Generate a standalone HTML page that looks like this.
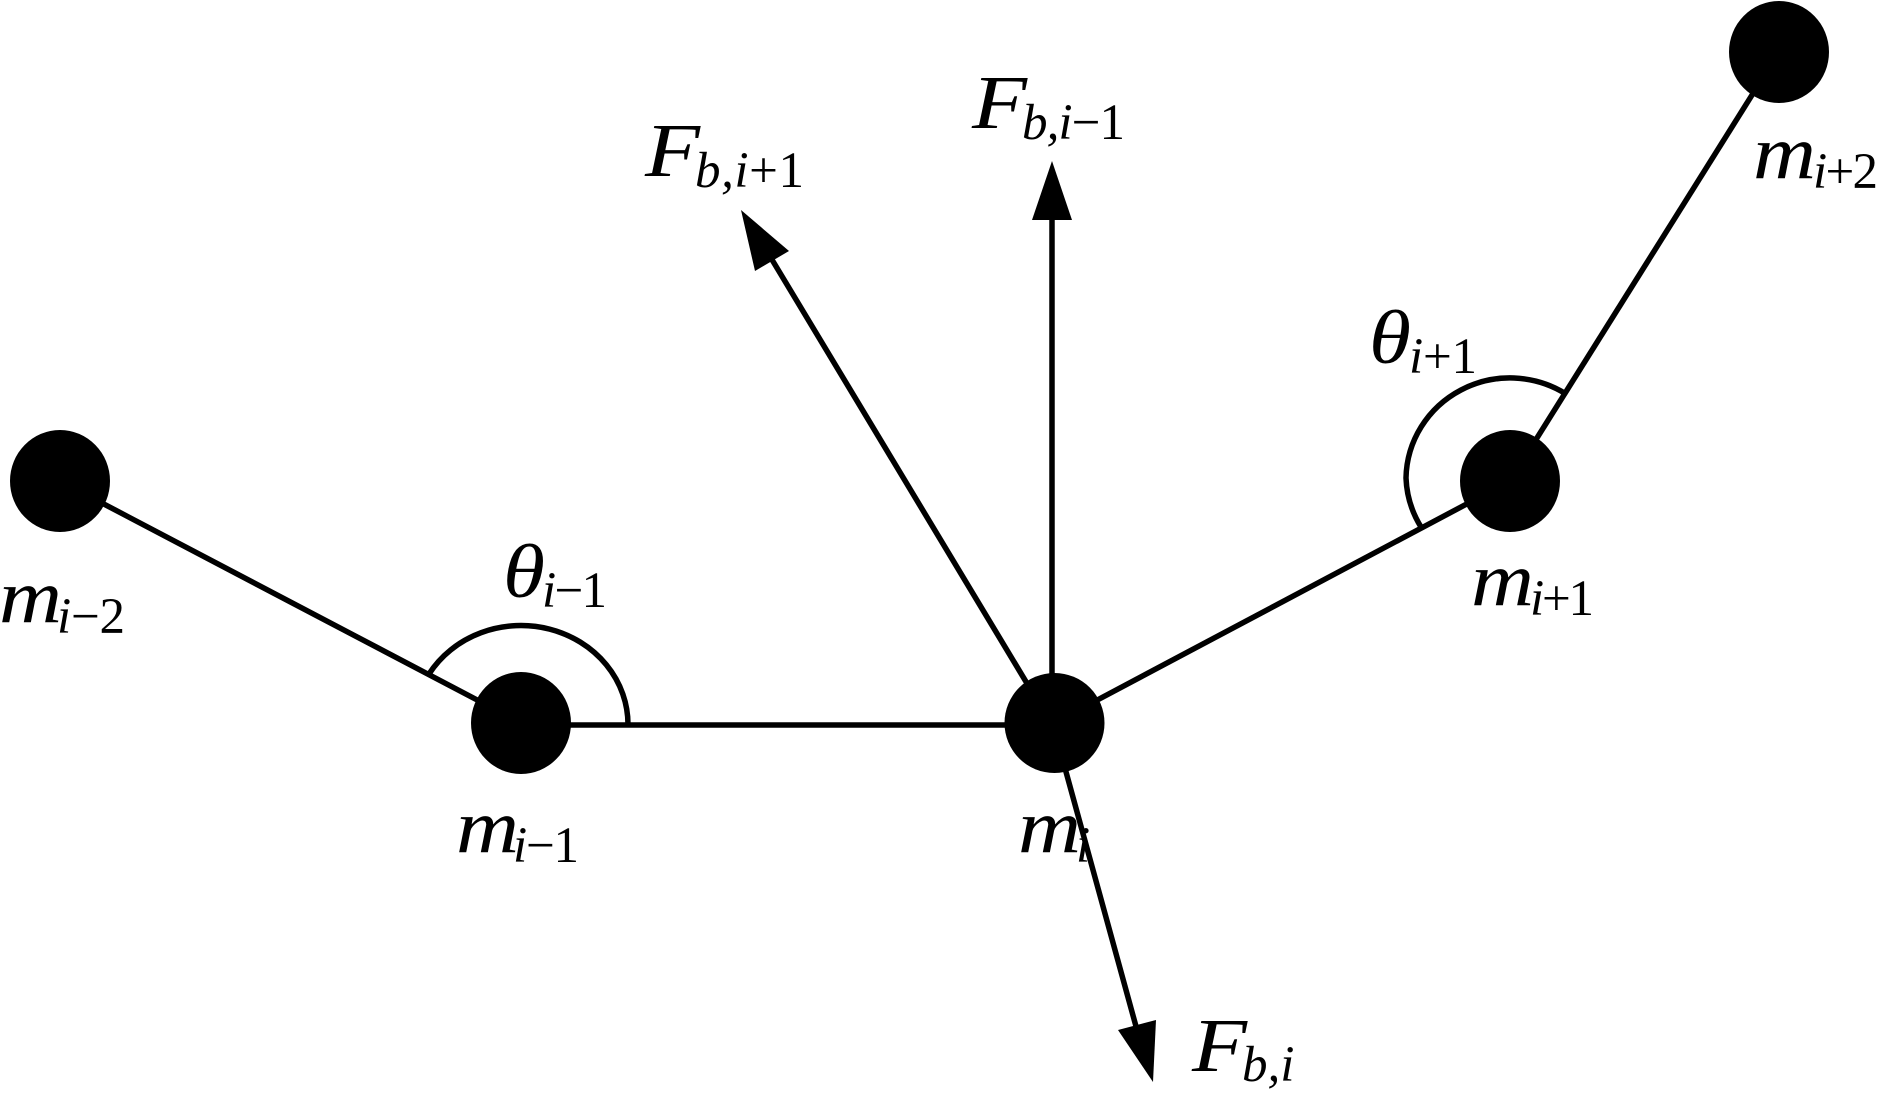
<!DOCTYPE html>
<html><head><meta charset="utf-8"><style>
html,body{margin:0;padding:0;background:#fff;width:1878px;height:1098px;overflow:hidden}
svg{display:block}
text{font-family:"Liberation Serif",serif;fill:#000}
.m{font-size:76px;font-style:italic}
.s{font-size:51px}
.i{font-style:italic}
</style></head><body>
<svg width="1878" height="1098" viewBox="0 0 1878 1098" xmlns="http://www.w3.org/2000/svg">
<rect width="1878" height="1098" fill="#fff"/>
<g fill="none" stroke="#000" stroke-width="5.5">
<path d="M60 481L521 723"/>
<path d="M521 725H1054"/>
<path d="M1054 723L1510 481"/>
<path d="M1510 481L1779 52"/>
<path d="M1052 700V215"/>
<path d="M1040 705L771 258"/>
<path d="M1060 750L1137 1030"/>
<path d="M429 674A107 99 0 0 1 628 725"/>
<path d="M1566 394A104 102 0 0 0 1406 478A104 102 0 0 0 1421 527"/>
</g>
<g fill="#000">
<ellipse cx="60" cy="481" rx="50" ry="51"/>
<ellipse cx="521" cy="723" rx="50" ry="51"/>
<ellipse cx="1054.5" cy="723" rx="50" ry="50"/>
<ellipse cx="1510" cy="481" rx="50" ry="51"/>
<ellipse cx="1779" cy="52" rx="50" ry="51"/>
<polygon points="1052,161 1032,220 1072,220"/>
<polygon points="741,210 789,251 755,271"/>
<polygon points="1153,1082 1118,1030 1156,1020"/>
</g>
<text class="m" x="972" y="128" textLength="55" lengthAdjust="spacingAndGlyphs">F</text>
<text class="s" x="1022" y="139" textLength="103"><tspan class="i">b,i</tspan>−1</text>
<text class="m" x="645" y="176" textLength="55" lengthAdjust="spacingAndGlyphs">F</text>
<text class="s" x="695" y="187" textLength="109"><tspan class="i">b,i</tspan>+1</text>
<text class="m" x="1192" y="1071" textLength="55" lengthAdjust="spacingAndGlyphs">F</text>
<text class="s" x="1242" y="1081"><tspan class="i">b,i</tspan></text>
<text class="m" x="1018" y="852" textLength="63" lengthAdjust="spacingAndGlyphs">m</text>
<text class="s i" x="1076" y="862">i</text>
<text class="m" x="456" y="852" textLength="63" lengthAdjust="spacingAndGlyphs">m</text>
<text class="s" x="513" y="862" textLength="66"><tspan class="i">i</tspan>−1</text>
<text class="m" x="-1" y="622" textLength="63" lengthAdjust="spacingAndGlyphs">m</text>
<text class="s" x="57" y="633" textLength="68"><tspan class="i">i</tspan>−2</text>
<text class="m" x="503" y="597" textLength="42" lengthAdjust="spacingAndGlyphs">θ</text>
<text class="s" x="542" y="607" textLength="65"><tspan class="i">i</tspan>−1</text>
<text class="m" x="1471" y="605" textLength="63" lengthAdjust="spacingAndGlyphs">m</text>
<text class="s" x="1530" y="615" textLength="64"><tspan class="i">i</tspan>+1</text>
<text class="m" x="1753" y="178" textLength="63" lengthAdjust="spacingAndGlyphs">m</text>
<text class="s" x="1813" y="188" textLength="65"><tspan class="i">i</tspan>+2</text>
<text class="m" x="1369" y="363" textLength="42" lengthAdjust="spacingAndGlyphs">θ</text>
<text class="s" x="1409" y="373" textLength="68"><tspan class="i">i</tspan>+1</text>
</svg>
</body></html>
